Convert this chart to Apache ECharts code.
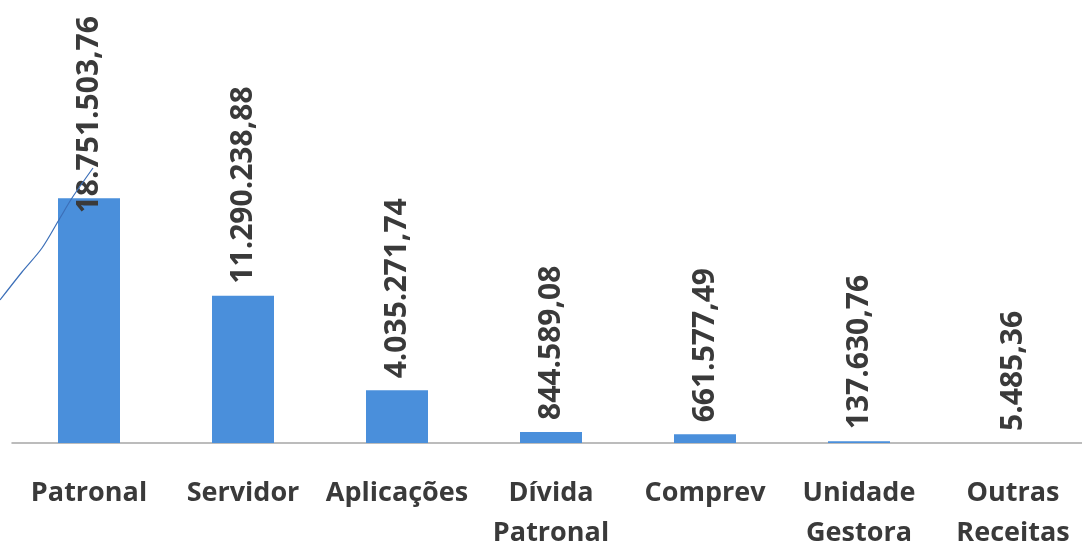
<!DOCTYPE html>
<html>
<head>
<meta charset="utf-8">
<script src="https://cdn.jsdelivr.net/npm/echarts@6/dist/echarts.min.js"></script>
<style>html,body{margin:0;padding:0;background:#fff;}#c{width:1082px;height:545px;}</style>
</head>
<body>
<div id="c"></div>
<script>
const categories = ['Patronal', 'Servidor', 'Aplicações', 'Dívida\nPatronal', 'Comprev', 'Unidade\nGestora', 'Outras\nReceitas'];
const values = [18751503.76, 11290238.88, 4035271.74, 844589.08, 661577.49, 137630.76, 5485.36];
const valueLabels = ['18.751.503,76', '11.290.238,88', '4.035.271,74', '844.589,08', '661.577,49', '137.630,76', '5.485,36'];

const chart = echarts.init(document.getElementById('c'));
const fontFam = '"Open Sans", "Noto Sans", sans-serif';
chart.setOption({
  backgroundColor: '#ffffff',
  animation: false,
  grid: { left: 12, right: -8, top: 182, bottom: 102, containLabel: false, outerBoundsMode: 'none' },
  xAxis: {
    type: 'category',
    data: categories,
    axisLine: { lineStyle: { color: '#a6a6a6', width: 1.5 } },
    axisTick: { show: false },
    axisLabel: {
      interval: 0, margin: 30, color: '#3a3a3a',
      fontFamily: fontFam, fontWeight: 'bold', fontSize: 27, lineHeight: 40
    }
  },
  yAxis: { type: 'value', min: 0, max: 20000000, show: false, splitLine: { show: false } },
  series: [{
    type: 'bar',
    barWidth: 62,
    itemStyle: { color: '#4a8fdb' },
    data: values.map((v, i) => i === 0 ? { value: v, label: { distance: -15 } } : v),
    label: {
      show: true, position: 'top', rotate: 90, align: 'left', verticalAlign: 'middle',
      distance: 12, color: '#3a3a3a', fontFamily: fontFam, fontWeight: 'bold', fontSize: 30,
      formatter: p => valueLabels[p.dataIndex]
    }
  }],
  graphic: [{
    type: 'polyline', z: 100,
    shape: { points: [[0, 300], [22, 272], [42, 248], [60, 218], [72, 198], [93, 168]], smooth: 0.3 },
    style: { stroke: '#3c6fb8', lineWidth: 1.2, fill: null }
  }]
});
</script>
</body>
</html>
